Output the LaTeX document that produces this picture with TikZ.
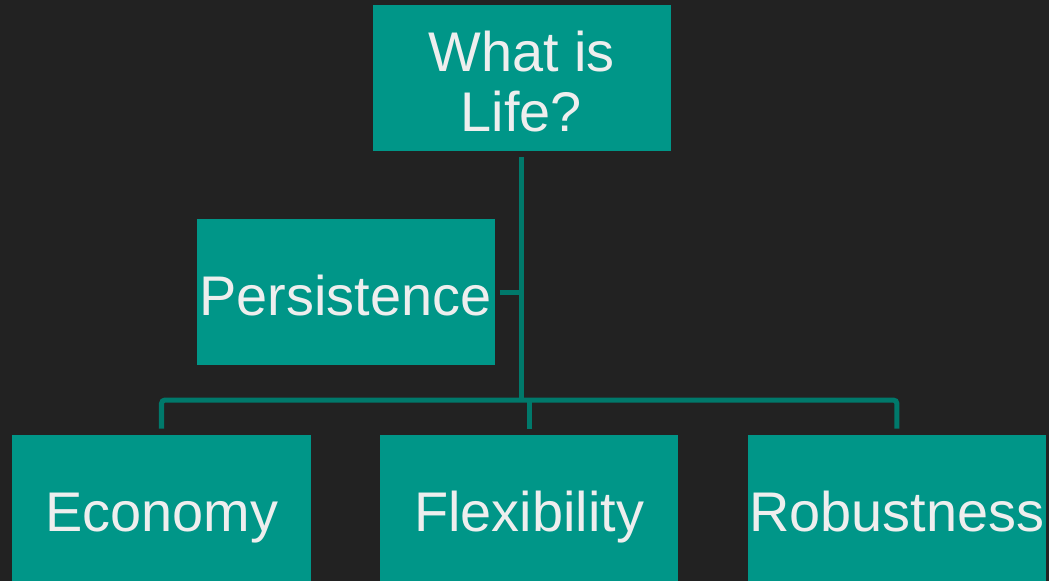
\documentclass[tikz,border=0pt]{standalone}
\usepackage{fontspec}
\setmainfont{Liberation Sans}
\usetikzlibrary{positioning}
\definecolor{bgDark}{RGB}{34,34,34}
\definecolor{tealBox}{RGB}{0,150,136}
\definecolor{tealLine}{RGB}{0,121,107}
\definecolor{txtLight}{RGB}{238,238,238}

\begin{document}
\begin{tikzpicture}[
  node distance=1.38cm,
  box/.style={fill=tealBox, minimum width=5.96cm, minimum height=2.92cm,
              inner sep=0pt, align=center, text=txtLight,
              text height=1.15cm, text depth=0.2cm,
              font=\fontsize{31.8}{34}\selectfont},
  link/.style={draw=tealLine, line width=2.85pt, rounded corners=2pt},
]
  \fill[bgDark] (0,0) rectangle (20.98,-11.62);
  \useasboundingbox (0,0) rectangle (20.98,-11.62);

  \node[box, text height=2.16cm, text depth=0cm] (life) at (10.43,-1.55) {What is\\Life?};
  \node[box] (persist) at (6.91,-5.84) {Persistence};
  \node[box] (economy) at (3.23,-10.16) {Economy};
  \node[box, right=of economy] (flex) {Flexibility};
  \node[box, right=of flex] (robust) {Robustness};

  % trunk down from the top, side branch, then the bus to the three leaves
  \coordinate (bus) at (10.43,-8.0);
  \draw[link] ([yshift=-0.12cm]life.south) -- (bus);
  \draw[link] ([xshift=0.1cm]persist.east) -- (persist.east -| bus);
  \draw[link] ([yshift=0.12cm]economy.north) |- (bus) -| ([yshift=0.12cm]robust.north);
  \draw[link] (bus -| flex) -- ([yshift=0.12cm]flex.north);
\end{tikzpicture}
\end{document}
